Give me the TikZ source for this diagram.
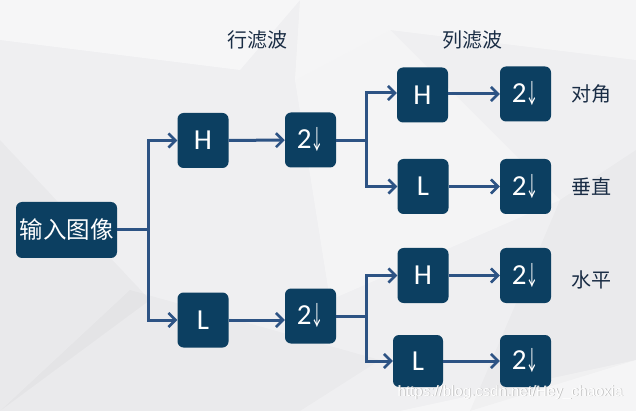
\documentclass[tikz,border=0pt]{standalone}
\usepackage{fontspec}
\setmainfont{Carlito}
\newfontfamily\cjk{Noto Sans CJK SC}
\newfontfamily\wm{Liberation Sans}
\usetikzlibrary{arrows.meta}
\definecolor{boxc}{HTML}{0C3F61}
\definecolor{linec}{HTML}{2D5384}
\definecolor{bg}{HTML}{EFEFF1}
\definecolor{txt}{HTML}{1A2D45}
\tikzset{
  blk/.style={draw=none,fill=boxc,rounded corners=6pt,text=white,inner sep=0pt,
     minimum width=51pt,minimum height=55pt,font=\fontsize{29}{29}\selectfont},
  conn/.style={draw=linec,line width=3pt},
  arr/.style={conn,-{Straight Barb[length=7pt,width=14pt,line width=2.6pt]}},
  lbl/.style={text=txt,font=\cjk\fontsize{20}{20}\selectfont,inner sep=0pt},
}
\newcommand{\dn}{2\kern-1pt\raisebox{-1pt}{\scalebox{0.55}[1.05]{\cjk\fontsize{25}{25}\selectfont ↓}}}
\begin{document}
\begin{tikzpicture}[x=1pt,y=-1pt]
\useasboundingbox (0,0) rectangle (636,411);
\fill[bg] (0,0) rectangle (636,411);
% faint background polygons
\fill[white,opacity=0.45] (0,0) -- (300,0) -- (240,70) -- (0,40) -- cycle;
\fill[white,opacity=0.4] (300,0) -- (636,0) -- (636,60) -- (390,30) -- (295,80) -- cycle;
\fill[white,opacity=0.35] (295,80) -- (390,30) -- (560,200) -- (330,300) -- cycle;
\fill[black,opacity=0.025] (0,140) -- (150,300) -- (0,411) -- cycle;
\fill[black,opacity=0.02] (130,290) -- (380,360) -- (300,411) -- (0,411) -- cycle;
\fill[white,opacity=0.4] (400,411) -- (636,360) -- (636,411) -- cycle;
\fill[black,opacity=0.02] (560,200) -- (636,150) -- (636,360) -- (470,411) -- cycle;

% nodes
\node[blk,minimum width=101pt,minimum height=56pt,font=\cjk\fontsize{23.5}{23.5}\selectfont] (in) at (66.5,230) {输入图像};
\node[blk] (h1) at (203,140.5) {H};
\node[blk] (l1) at (203,320) {L};
\node[blk] (d1) at (310.5,140) {\dn};
\node[blk] (d2) at (310.5,316) {\dn};
\node[blk] (h2) at (422.5,95) {H};
\node[blk] (d3) at (525.5,94) {\dn};
\node[blk] (l2) at (423,186.5) {L};
\node[blk] (d4) at (525.5,186.5) {\dn};
\node[blk] (h3) at (423,275.5) {H};
\node[blk] (d5) at (525.5,275.5) {\dn};
\node[blk,minimum width=50pt,minimum height=52pt] (l4) at (418,361) {L};
\node[blk,minimum height=52pt] (d6) at (525.5,361) {\dn};

\node[lbl] (t1) at (257,40) {行滤波};
\node[lbl] (t2) at (472,40) {列滤波};
\node[lbl] (c1) at (591,94) {对角};
\node[lbl] (c2) at (591,187) {垂直};
\node[lbl] (c3) at (591,280) {水平};

% junction coordinates
\coordinate (j1) at (148,230);
\coordinate (j2) at (366,141);
\coordinate (j3) at (366,316);

% connectors
\draw[conn] (in.east) -- (j1);
\draw[arr] (j1) |- (h1.west);
\draw[arr] (j1) |- (l1.west);
\draw[arr] (h1) -- (d1);
\draw[arr] (l1.east) -- (d2.west |- l1.east);
\draw[conn] (d1.east |- j2) -- (j2);
\draw[arr] (j2) |- ([yshift=2pt]h2.west);
\draw[arr] (j2) |- (l2.west);
\draw[conn] (d2.east) -- (j3);
\draw[arr] (j3) |- (h3.west);
\draw[arr] (j3) |- (l4.west);
\draw[arr] (h2.east |- d3) -- (d3.west);
\draw[arr] (l2) -- (d4);
\draw[arr] (h3) -- (d5);
\draw[arr] (l4) -- (d6);

% watermark
\node[text=black!28,font=\wm\fontsize{15}{15}\selectfont,inner sep=0pt] (wm0) at (511,393) {https://blog.csdn.net/Hey\_chaoxia};
\node[text=white,font=\wm\fontsize{15}{15}\selectfont,inner sep=0pt] (wm) at (510.3,392.3) {https://blog.csdn.net/Hey\_chaoxia};
\end{tikzpicture}
\end{document}
